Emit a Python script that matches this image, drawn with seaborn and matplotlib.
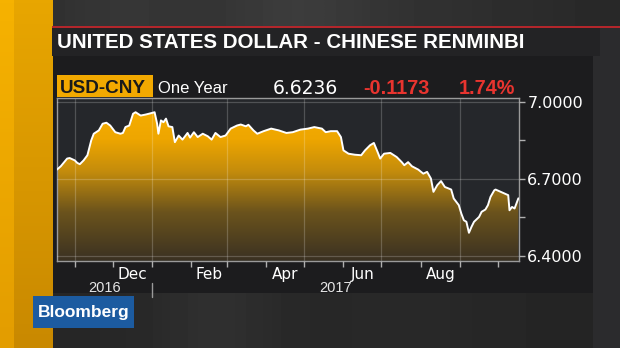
import numpy as np
import pandas as pd
import matplotlib
matplotlib.use("Agg")
import matplotlib.pyplot as plt
import matplotlib.ticker as mticker
from matplotlib.colors import LinearSegmentedColormap
from matplotlib.patches import Rectangle
import matplotlib.dates as mdates
import seaborn as sns

# ---------------- data ----------------
dates = [
    "2016-10-18", "2016-10-21", "2016-10-26", "2016-10-28", "2016-11-01", "2016-11-03",
    "2016-11-05", "2016-11-08", "2016-11-11", "2016-11-14", "2016-11-16", "2016-11-20",
    "2016-11-23", "2016-11-26", "2016-11-29", "2016-12-03", "2016-12-07", "2016-12-09",
    "2016-12-11", "2016-12-14", "2016-12-17", "2016-12-19", "2016-12-23", "2016-12-27",
    "2016-12-31", "2017-01-03", "2017-01-05", "2017-01-06", "2017-01-08", "2017-01-10",
    "2017-01-12", "2017-01-14", "2017-01-17", "2017-01-19", "2017-01-22", "2017-01-25",
    "2017-01-29", "2017-01-31", "2017-02-03", "2017-02-06", "2017-02-10", "2017-02-14",
    "2017-02-17", "2017-02-20", "2017-02-24", "2017-02-28", "2017-03-04", "2017-03-09",
    "2017-03-12", "2017-03-16", "2017-03-18", "2017-03-22", "2017-03-25", "2017-03-30",
    "2017-04-05", "2017-04-11", "2017-04-17", "2017-04-22", "2017-04-28", "2017-05-04",
    "2017-05-09", "2017-05-15", "2017-05-18", "2017-05-22", "2017-05-27", "2017-05-30",
    "2017-06-01", "2017-06-05", "2017-06-10", "2017-06-15", "2017-06-18", "2017-06-22",
    "2017-06-25", "2017-06-28", "2017-06-30", "2017-07-03", "2017-07-08", "2017-07-13",
    "2017-07-17", "2017-07-19", "2017-07-22", "2017-07-25", "2017-07-30", "2017-08-03",
    "2017-08-06", "2017-08-09", "2017-08-11", "2017-08-14", "2017-08-17", "2017-08-20",
    "2017-08-25", "2017-08-27", "2017-08-31", "2017-09-02", "2017-09-04", "2017-09-06",
    "2017-09-08", "2017-09-10", "2017-09-12", "2017-09-16", "2017-09-18", "2017-09-21",
    "2017-09-23", "2017-09-25", "2017-09-28", "2017-09-29", "2017-10-09", "2017-10-10",
    "2017-10-12", "2017-10-14", "2017-10-17",
]
rates = [
    6.736, 6.749, 6.779, 6.781, 6.772, 6.762,
    6.757, 6.772, 6.792, 6.850, 6.876, 6.889,
    6.915, 6.919, 6.908, 6.882, 6.876, 6.879,
    6.902, 6.908, 6.954, 6.960, 6.947, 6.951,
    6.956, 6.960, 6.915, 6.876, 6.928, 6.921,
    6.935, 6.905, 6.902, 6.843, 6.869, 6.853,
    6.879, 6.861, 6.882, 6.863, 6.876, 6.866,
    6.853, 6.879, 6.863, 6.869, 6.896, 6.908,
    6.912, 6.905, 6.911, 6.889, 6.876, 6.886,
    6.896, 6.889, 6.879, 6.882, 6.892, 6.896,
    6.902, 6.896, 6.882, 6.886, 6.886, 6.863,
    6.811, 6.798, 6.794, 6.792, 6.811, 6.831,
    6.840, 6.804, 6.779, 6.798, 6.801, 6.785,
    6.765, 6.753, 6.765, 6.749, 6.736, 6.720,
    6.727, 6.701, 6.649, 6.675, 6.691, 6.668,
    6.658, 6.623, 6.597, 6.564, 6.538, 6.532,
    6.489, 6.512, 6.532, 6.551, 6.571, 6.580,
    6.597, 6.629, 6.655, 6.658, 6.636, 6.577,
    6.590, 6.584, 6.6236,
]

title_text = "UNITED STATES DOLLAR - CHINESE RENMINBI"
pair_label = "USD-CNY"
period_label = "One Year"
last_price = "6.6236"
net_change = "-0.1173"
pct_change = "1.74%"
month_labels = ["Dec", "Feb", "Apr", "Jun", "Aug"]
month_label_starts = ["2016-12-01", "2017-02-01", "2017-04-01", "2017-06-01", "2017-08-01"]
year_labels = ["2016", "2017"]
y_major = [6.4, 6.7, 7.0]
y_minor = [6.55, 6.85]
y_limits = (6.38, 7.0144)

# ---------------- style ----------------
sns.set_theme(style="dark")
plt.rcParams['font.family'] = ['DejaVu Sans']

df = pd.DataFrame({"date": pd.to_datetime(dates), "rate": rates})

fig = plt.figure(figsize=(6.2, 3.48), dpi=100)
fig.patch.set_facecolor('#27272a')

# background "broadcast" frame in pixel coordinates
bg = fig.add_axes([0, 0, 1, 1], zorder=0)
bg.set_xlim(0, 620)
bg.set_ylim(348, 0)
bg.axis('off')

def rect(x0, y0, x1, y1, color, **kw):
    bg.add_patch(Rectangle((x0, y0), x1 - x0, y1 - y0, facecolor=color,
                           edgecolor='none', **kw))

# top band with soft streaks
top = np.array([[0.18, 0.2, 0.22, 0.2, 0.21, 0.24, 0.23, 0.2, 0.19, 0.18, 0.17, 0.16]])
bg.imshow(top, extent=[0, 620, 26, 0], cmap='gray', vmin=0, vmax=1, aspect='auto',
          interpolation='bicubic', zorder=0)
# lower band
low = np.array([[0.15, 0.15, 0.16, 0.2, 0.16, 0.15, 0.17, 0.15, 0.15, 0.14]])
bg.imshow(low, extent=[0, 620, 348, 293], cmap='gray', vmin=0, vmax=1, aspect='auto',
          interpolation='bicubic', zorder=0)
# left orange stripes (vertical gradient)
stripe1 = LinearSegmentedColormap.from_list('s1', ['#f6b200', '#e39d00'])
stripe2 = LinearSegmentedColormap.from_list('s2', ['#e8a600', '#c98900'])
grad = np.linspace(0, 1, 100).reshape(-1, 1)
bg.imshow(grad, extent=[0, 14, 348, 0], cmap=stripe1, aspect='auto', zorder=1)
bg.imshow(grad, extent=[14, 53, 348, 0], cmap=stripe2, aspect='auto', zorder=1)
# right side band
rect(593, 28, 620, 348, '#2b2b2d', zorder=1)
# red line, title bar and panel
rect(52, 25.5, 620, 28.2, '#b3262b', zorder=2)
rect(52, 28.2, 600, 56, '#232325', zorder=2)
rect(53, 56, 593, 293, '#1c1c1e', zorder=2)
# Bloomberg logo
rect(33, 296, 134, 328, '#1c5ba0', zorder=3)
bg.text(83.5, 312.5, "Bloomberg", color='white', fontsize=12.5, fontweight='bold',
        family='Liberation Sans', ha='center', va='center', zorder=4)

# header texts
bg.text(57, 48, title_text, color='white', fontsize=14.8, fontweight='bold',
        family='Liberation Sans', ha='left', va='baseline', zorder=4)
rect(57, 75, 153, 96.5, '#f2a900', zorder=3)
bg.text(60, 92.8, pair_label, color='#1a1a1a', fontsize=13.6, fontweight='bold',
        family='Liberation Sans', ha='left', va='baseline', zorder=4)
bg.text(158, 93, period_label, color='white', fontsize=12,
        family='Liberation Sans', ha='left', va='baseline', zorder=4)
bg.text(338.5, 94, last_price, color='white', fontsize=13.5,
        family='DejaVu Sans', ha='right', va='baseline', zorder=4)
bg.text(430, 94, net_change, color='#e8342f', fontsize=14.3, fontweight='bold',
        family='Liberation Sans', ha='right', va='baseline', zorder=4)
bg.text(515, 94, pct_change, color='#e8342f', fontsize=14.3, fontweight='bold',
        family='Liberation Sans', ha='right', va='baseline', zorder=4)

# ---------------- chart ----------------
ax = fig.add_axes([57 / 620, 1 - 260.7 / 348, 462 / 620, 162.4 / 348], zorder=2)
ax.set_facecolor('#25272b')

x_left = df['date'].iloc[0]
x_right = df['date'].iloc[-1] + pd.Timedelta(hours=12)
ax.set_xlim(x_left, x_right)
ax.set_ylim(*y_limits)

# gradient area under the curve
fill_cmap = LinearSegmentedColormap.from_list(
    'fill', [(0.0, '#3a3122'), (0.3, '#6b531c'), (0.55, '#c48c0c'),
             (0.75, '#eea600'), (1.0, '#f9b000')])
poly = ax.fill_between(df['date'], df['rate'], y_limits[0], facecolor='none',
                       edgecolor='none')
xn0, xn1 = mdates.date2num(x_left), mdates.date2num(x_right)
im = ax.imshow(np.linspace(0, 1, 256).reshape(-1, 1), extent=[xn0, xn1, *y_limits],
               origin='lower', aspect='auto', cmap=fill_cmap, zorder=1.5)
im.set_clip_path(poly.get_paths()[0], transform=ax.transData)

sns.lineplot(data=df, x='date', y='rate', ax=ax, color='white', lw=1.4, zorder=4)

ax.set_xlabel('')
ax.set_ylabel('')

# y axis on the right
ax.yaxis.tick_right()
ax.set_yticks(y_major)
ax.set_yticks(y_minor, minor=True)
ax.yaxis.set_major_formatter(mticker.FormatStrFormatter('%.4f'))
ax.tick_params(axis='y', which='both', direction='out', length=4, width=1,
               color='#b0b0b0', labelcolor='white', labelsize=11.5, pad=2,
               left=False, right=True)
ax.yaxis.grid(True, which='major', color='white', alpha=0.2, lw=0.9)

# x axis: ticks at each month start, labels centred in alternate months
month_starts = pd.date_range('2016-11-01', '2017-10-01', freq='MS')
ax.set_xticks(month_starts)
ax.xaxis.set_major_formatter(mticker.NullFormatter())
lbl_starts = pd.to_datetime(month_label_starts)
lbl_pos = [s + pd.Timedelta(days=s.days_in_month / 2) for s in lbl_starts]
ax.set_xticks(lbl_pos, minor=True)
ax.set_xticklabels(month_labels, minor=True)
ax.tick_params(axis='x', which='major', direction='out', length=4, width=1,
               color='#b0b0b0', bottom=True)
ax.tick_params(axis='x', which='minor', length=0, pad=4.3, labelsize=11,
               labelcolor='white', bottom=True)
for d in month_starts[::2]:
    ax.axvline(d, color='white', alpha=0.2, lw=0.9, zorder=2.5)
ax.set_axisbelow(False)

# year labels and separator
jan1 = pd.Timestamp('2017-01-01')
xt = ax.get_xaxis_transform()
ax.text(x_left + (jan1 - x_left) / 2, -0.168, year_labels[0], transform=xt,
        ha='center', va='center', color='#e6e6e6', fontsize=10.5,
        family='Liberation Sans')
ax.text(jan1 + (x_right - jan1) / 2, -0.168, year_labels[1], transform=xt,
        ha='center', va='center', color='#e6e6e6', fontsize=10.5,
        family='Liberation Sans')
ax.plot([jan1, jan1], [-0.137, -0.224], transform=xt, clip_on=False,
        color='#9a9a9a', lw=1)

for s in ax.spines.values():
    s.set_visible(True)
    s.set_color('#9a9a9a')
    s.set_linewidth(1)

fig.savefig('out.png', dpi=100, facecolor=fig.get_facecolor())
